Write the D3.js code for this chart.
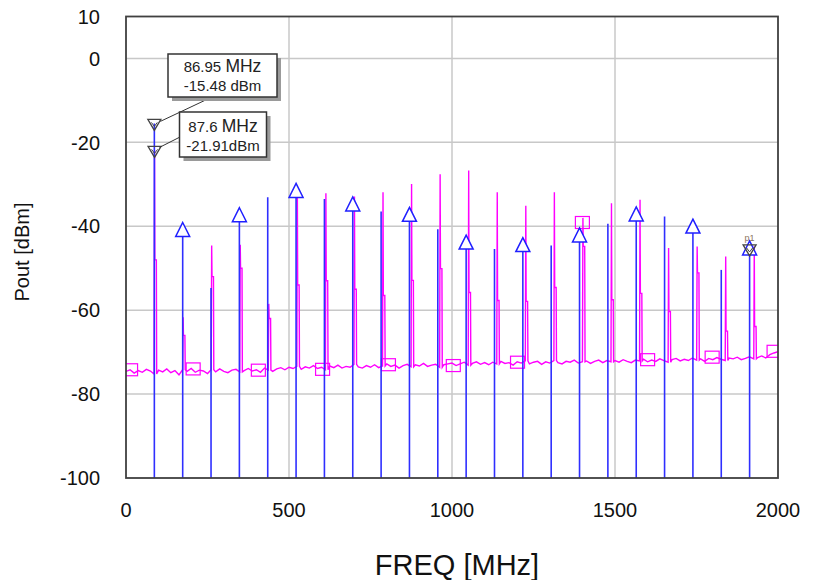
<!DOCTYPE html>
<html>
<head>
<meta charset="utf-8">
<script src="https://cdn.jsdelivr.net/npm/d3@7"></script>
<style>
  body { margin: 0; background: #fff; }
  text { font-family: "Liberation Sans", Arial, sans-serif; }
</style>
</head>
<body>
<div id="chart"></div>
<script>
// harmonic frequencies (MHz) and levels (dBm)
var simFreq = [86.95, 173.9, 260.85, 347.8, 434.75, 521.7, 608.65, 695.6, 782.55, 869.5, 956.45,
  1043.4, 1130.35, 1217.3, 1304.25, 1391.2, 1478.15, 1565.1, 1652.05, 1739, 1825.95, 1912.9];
var simDbm = [-15.48, -41.0, -54.7, -37.5, -33.1, -31.7, -33.5, -34.9, -36.5, -37.4, -40.7,
  -44.0, -45.4, -44.6, -44.6, -42.3, -39.4, -37.3, -37.7, -40.2, -50.4, -45.4];

var measFreq = [87.6, 175.2, 262.8, 350.4, 438, 525.6, 613.2, 700.8, 788.4, 876, 963.6,
  1051.2, 1138.8, 1226.4, 1314, 1401.6, 1489.2, 1576.8, 1664.4, 1752, 1839.6, 1927.2];
var measPeak = [-21.91, -61.7, -44.6, -44.4, -58.5, -31.3, -32.1, -32.9, -31.9, -29.9, -27.6,
  -26.7, -31.9, -35.1, -31.9, -38.0, -34.5, -33.7, -45.2, -44.8, -47.2, -44.8];
var measShoulder = [-48, -66, -52, -50, -62, -54, -53, -55, -56.5, -52.9, -50.1,
  -55.8, -57.7, -57.9, -54.6, -44.8, -57.5, -56, -60.3, -51.1, -65, -63.9];

// measured noise floor, sweep 0..2000 MHz in 12.5 MHz steps
var sweepStep = 12.5;
var floorDbm = [
  -74.6,-74.2,-75.0,-74.4,-74.8,-74.1,-74.5,-75.2,-74.3,-74.7,
  -74.0,-74.9,-74.4,-75.4,-74.2,-74.6,-73.9,-74.8,-74.3,-74.5,
  -75.1,-74.2,-74.7,-74.0,-74.6,-74.9,-74.3,-74.1,-74.7,-74.4,
  -73.9,-74.5,-74.2,-74.8,-73.8,-74.3,-74.6,-74.0,-73.7,-74.2,
  -73.6,-73.9,-73.4,-74.1,-73.5,-73.8,-73.2,-73.9,-73.6,-74.2,
  -73.3,-73.7,-73.1,-73.8,-73.4,-73.6,-72.9,-73.5,-73.8,-73.2,
  -73.6,-73.0,-73.7,-73.3,-72.8,-73.4,-73.1,-73.8,-73.2,-72.9,
  -73.5,-73.0,-73.3,-72.7,-73.4,-73.1,-72.9,-73.6,-73.0,-72.8,
  -72.6,-73.2,-72.8,-72.4,-73.1,-72.7,-72.3,-72.9,-72.5,-73.0,
  -72.4,-72.8,-72.2,-72.7,-72.5,-73.1,-72.3,-72.6,-72.1,-72.8,
  -72.4,-72.2,-72.9,-72.3,-72.6,-72.0,-72.5,-72.8,-72.2,-72.4,
  -71.9,-72.6,-72.3,-72.1,-72.7,-72.2,-71.9,-72.5,-72.0,-72.3,
  -72.0,-72.4,-71.8,-72.2,-72.5,-71.9,-72.1,-71.7,-72.3,-71.9,
  -72.2,-71.6,-72.0,-72.4,-71.8,-71.5,-72.1,-71.7,-72.0,-71.4,
  -71.9,-71.6,-72.2,-71.5,-71.8,-71.3,-71.7,-72.0,-71.4,-71.6,
  -71.2,-71.8,-71.5,-71.1,-71.6,-71.3,-70.9,-71.4,-70.6,-70.2,
  -69.9
];

// square markers on the measured trace
var squareFreq = [14, 206, 406, 603, 805, 1004, 1201, 1400, 1600, 1798, 1988];
var squareDbm = [-74.2, -74.0, -74.3, -74.1, -73.0, -73.2, -72.4, -39.1, -71.8, -71.2, -69.8];

var xTicks = [0, 500, 1000, 1500, 2000];
var yTicks = [10, 0, -20, -40, -60, -80, -100];
var xGrid = [500, 1000, 1500];
var yGrid = [0, -20, -40, -60, -80];

var width = 814, height = 580;
var plot = {left: 126, right: 778, top: 16.5, bottom: 478};

var x = d3.scaleLinear().domain([0, 2000]).range([plot.left, plot.right]);
var y = d3.scaleLinear().domain([-100, 10]).range([plot.bottom, plot.top]);

var svg = d3.select("#chart").append("svg")
  .attr("width", width)
  .attr("height", height);

svg.append("rect").attr("width", width).attr("height", height).attr("fill", "#fff");

svg.append("clipPath").attr("id", "clip")
  .append("rect")
  .attr("x", plot.left).attr("y", plot.top)
  .attr("width", plot.right - plot.left).attr("height", plot.bottom - plot.top);

// grid
svg.append("g").selectAll("line").data(xGrid).enter().append("line")
  .attr("x1", d => x(d)).attr("x2", d => x(d))
  .attr("y1", plot.top).attr("y2", plot.bottom)
  .attr("stroke", "#c8c8c8").attr("stroke-width", 1.5);
svg.append("g").selectAll("line").data(yGrid).enter().append("line")
  .attr("x1", plot.left).attr("x2", plot.right)
  .attr("y1", d => y(d)).attr("y2", d => y(d))
  .attr("stroke", "#c8c8c8").attr("stroke-width", 1.5);

// tick labels
svg.append("g").selectAll("text").data(yTicks).enter().append("text")
  .attr("x", 100).attr("y", d => y(d)).attr("dy", "0.36em")
  .attr("text-anchor", "end").attr("font-size", 20).attr("fill", "#111")
  .text(d => d);
svg.append("g").selectAll("text").data(xTicks).enter().append("text")
  .attr("x", d => x(d)).attr("y", 517)
  .attr("text-anchor", "middle").attr("font-size", 20).attr("fill", "#111")
  .text(d => d);

svg.append("text")
  .attr("transform", "translate(29,252) rotate(-90)")
  .attr("text-anchor", "middle").attr("font-size", 20).attr("fill", "#111")
  .text("Pout [dBm]");
svg.append("text")
  .attr("x", 457).attr("y", 575)
  .attr("text-anchor", "middle").attr("font-size", 29).attr("fill", "#111")
  .text("FREQ [MHz]");

var g = svg.append("g").attr("clip-path", "url(#clip)");

// measured trace: noise floor with spikes
var trace = [];
floorDbm.forEach(function(v, i) {
  var f = i * sweepStep;
  var near = measFreq.some(function(m) { return f > m - 4 && f < m + 9; });
  if (!near) trace.push([f, v]);
});
measFreq.forEach(function(f, i) {
  var fl = floorDbm[Math.round(f / sweepStep)];
  trace.push([f - 1.5, fl], [f, measPeak[i]], [f + 1, measShoulder[i]],
             [f + 5.5, measShoulder[i]], [f + 6.5, fl]);
});
trace.sort(function(a, b) { return a[0] - b[0]; });

var line = d3.line().x(d => x(d[0])).y(d => y(d[1]));
g.append("path")
  .datum(trace)
  .attr("d", line)
  .attr("fill", "none")
  .attr("stroke", "#ff00ff")
  .attr("stroke-width", 1.4);

g.append("g").selectAll("rect").data(squareFreq).enter().append("rect")
  .attr("x", d => x(d) - 7).attr("y", (d, i) => y(squareDbm[i]) - 6)
  .attr("width", 14).attr("height", 12)
  .attr("fill", "none").attr("stroke", "#ff00ff").attr("stroke-width", 1.2);

// simulated harmonics
g.append("g").selectAll("line").data(simFreq).enter().append("line")
  .attr("x1", d => x(d)).attr("x2", d => x(d))
  .attr("y1", y(-100)).attr("y2", (d, i) => y(simDbm[i]))
  .attr("stroke", "#2f2fff").attr("stroke-width", 1.6);

var triIdx = d3.range(1, simFreq.length, 2);
g.append("g").selectAll("path").data(triIdx).enter().append("path")
  .attr("d", function(i) {
    var cx = x(simFreq[i]), cy = y(simDbm[i]);
    return "M" + cx + "," + (cy - 8) + "L" + (cx + 7) + "," + (cy + 6) + "L" + (cx - 7) + "," + (cy + 6) + "Z";
  })
  .attr("fill", "#fff").attr("stroke", "#2020ff").attr("stroke-width", 1.5);

// markers
var markers = [
  {f: simFreq[0], v: simDbm[0]},
  {f: measFreq[0], v: measPeak[0]},
  {f: simFreq[21], v: simDbm[21]}
];
var mk = svg.append("g").selectAll("g").data(markers).enter().append("g")
  .attr("transform", d => "translate(" + x(d.f) + "," + y(d.v) + ")");
mk.append("path").attr("d", "M-6.5,-4L6.5,-4L0,7Z")
  .attr("fill", "none").attr("stroke", "#444").attr("stroke-width", 1.3);
mk.append("path").attr("d", "M-3,-1L0,3L3,-1")
  .attr("fill", "none").attr("stroke", "#444").attr("stroke-width", 1);

svg.append("text")
  .attr("x", x(simFreq[21])).attr("y", y(simDbm[21]) - 8)
  .attr("text-anchor", "middle").attr("font-size", 9).attr("fill", "#8a7560")
  .text("p1");

// leader lines
svg.append("line")
  .attr("x1", x(simFreq[0]) + 6).attr("y1", y(simDbm[0]) - 2)
  .attr("x2", 212).attr("y2", 97)
  .attr("stroke", "#333").attr("stroke-width", 1);
svg.append("line")
  .attr("x1", x(measFreq[0]) + 5).attr("y1", y(measPeak[0]) - 3)
  .attr("x2", 180).attr("y2", 137)
  .attr("stroke", "#333").attr("stroke-width", 1);

// label boxes
function labelBox(bx, by, bw, bh, num, unit, line2, b1, b2) {
  var box = svg.append("g");
  box.append("rect").attr("x", bx + 4).attr("y", by + 4).attr("width", bw).attr("height", bh)
    .attr("fill", "#9a9a9a");
  box.append("rect").attr("x", bx).attr("y", by).attr("width", bw).attr("height", bh)
    .attr("fill", "#fff").attr("stroke", "#333").attr("stroke-width", 1.5);
  var t = box.append("text").attr("x", bx + bw / 2).attr("y", b1)
    .attr("text-anchor", "middle").attr("fill", "#222");
  t.append("tspan").attr("font-size", 15).text(num + " ");
  t.append("tspan").attr("font-size", 17.5).text(unit);
  box.append("text").attr("x", bx + bw / 2).attr("y", b2)
    .attr("text-anchor", "middle").attr("font-size", 15).attr("fill", "#222")
    .text(line2);
}
labelBox(168, 54, 109, 43, "86.95", "MHz", "-15.48 dBm", 71.5, 91);
labelBox(179.5, 112, 87, 45, "87.6", "MHz", "-21.91dBm", 132, 150.5);

// frame
svg.append("rect")
  .attr("x", plot.left).attr("y", plot.top)
  .attr("width", plot.right - plot.left).attr("height", plot.bottom - plot.top)
  .attr("fill", "none").attr("stroke", "#404040").attr("stroke-width", 1.8);
</script>
</body>
</html>
